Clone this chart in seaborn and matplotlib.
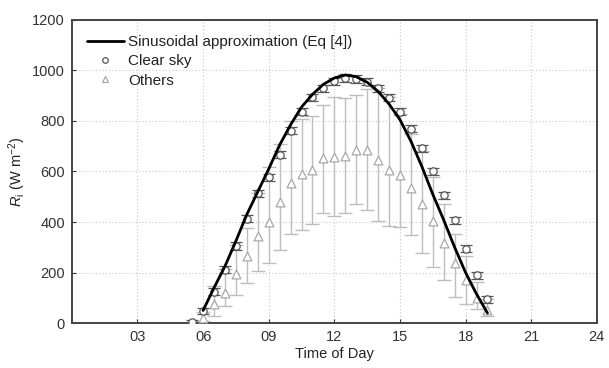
import numpy as np
import pandas as pd
import matplotlib
matplotlib.use("Agg")
import matplotlib.pyplot as plt
from matplotlib.lines import Line2D
import seaborn as sns

# ---- data ----
curve_hours = [6.0, 6.5, 7.0, 7.5, 8.0, 8.5, 9.0, 9.5, 10.0, 10.5, 11.0, 11.5, 12.0, 12.5,
               13.0, 13.5, 14.0, 14.5, 15.0, 15.5, 16.0, 16.5, 17.0, 17.5, 18.0, 18.5, 19.0]
curve_values = [50, 140, 225, 325, 430, 520, 610, 705, 785, 855, 905, 945, 970, 982,
                975, 953, 917, 867, 805, 720, 620, 510, 408, 300, 200, 115, 40]

clear_hours = [5.5, 6.0, 6.5, 7.0, 7.5, 8.0, 8.5, 9.0, 9.5, 10.0, 10.5, 11.0, 11.5, 12.0,
               12.5, 13.0, 13.5, 14.0, 14.5, 15.0, 15.5, 16.0, 16.5, 17.0, 17.5, 18.0, 18.5, 19.0]
clear_mean = [5, 48, 125, 212, 305, 413, 514, 578, 667, 762, 837, 893, 930, 957,
              970, 966, 955, 930, 891, 836, 770, 692, 601, 505, 407, 295, 189, 94]
clear_err = [6, 12, 14, 14, 14, 14, 14, 14, 14, 14, 14, 14, 14, 14,
             14, 14, 14, 14, 14, 14, 14, 14, 14, 14, 14, 14, 14, 14]

others_hours = [6.0, 6.5, 7.0, 7.5, 8.0, 8.5, 9.0, 9.5, 10.0, 10.5, 11.0, 11.5, 12.0, 12.5,
                13.0, 13.5, 14.0, 14.5, 15.0, 15.5, 16.0, 16.5, 17.0, 17.5, 18.0, 18.5, 19.0]
others_mean = [22, 75, 120, 193, 264, 343, 400, 479, 554, 591, 607, 654, 659, 663,
               686, 686, 646, 607, 588, 534, 470, 404, 317, 236, 170, 99, 51]
others_low = [8, 30, 67, 110, 157, 206, 236, 290, 353, 370, 393, 437, 422, 435,
              470, 449, 404, 383, 379, 347, 277, 222, 170, 104, 75, 55, 28]
others_high = [45, 145, 213, 308, 375, 513, 617, 707, 801, 809, 821, 864, 893, 891,
               902, 926, 930, 893, 829, 750, 680, 580, 470, 354, 264, 163, 95]

xticks = [3, 6, 9, 12, 15, 18, 21, 24]
xtick_labels = ["03", "06", "09", "12", "15", "18", "21", "24"]
yticks = [0, 200, 400, 600, 800, 1000, 1200]

# ---- style ----
sns.set_style("ticks")
plt.rcParams["font.family"] = ["Liberation Sans", "DejaVu Sans"]
plt.rcParams["mathtext.fontset"] = "custom"
plt.rcParams["mathtext.rm"] = "Liberation Sans"
plt.rcParams["mathtext.it"] = "Liberation Sans:italic"

fig = plt.figure(figsize=(6.09, 3.68), dpi=100)
ax = fig.add_axes([0.118, 0.122, 0.862, 0.824])

curve_df = pd.DataFrame({"hour": curve_hours, "R": curve_values})
clear_df = pd.DataFrame({"hour": clear_hours, "R": clear_mean, "err": clear_err})
others_df = pd.DataFrame({"hour": others_hours, "R": others_mean,
                          "lo": others_low, "hi": others_high})

others_color = "#a8a8a8"
clear_color = "#555555"

# Others error bars
ax.errorbar(others_df["hour"], others_df["R"],
            yerr=[others_df["R"] - others_df["lo"], others_df["hi"] - others_df["R"]],
            fmt="none", ecolor="#bdbdbd", elinewidth=1.0, capsize=5, capthick=1.0, zorder=2)
sns.scatterplot(data=others_df, x="hour", y="R", marker="^", s=40,
                facecolor="white", edgecolor=others_color, linewidth=0.9, ax=ax, zorder=3)

# Clear sky
ax.errorbar(clear_df["hour"], clear_df["R"], yerr=clear_df["err"],
            fmt="none", ecolor=clear_color, elinewidth=0.9, capsize=4.5, capthick=0.9, zorder=4)
sns.scatterplot(data=clear_df, x="hour", y="R", marker="o", s=28,
                facecolor="white", edgecolor=clear_color, linewidth=0.9, ax=ax, zorder=5)

# Sinusoidal approximation
sns.lineplot(data=curve_df, x="hour", y="R", color="black", linewidth=2.0, ax=ax, zorder=6)

ax.set_xlim(0, 24)
ax.set_ylim(0, 1200)
ax.set_xticks(xticks)
ax.set_xticklabels(xtick_labels)
ax.set_yticks(yticks)
ax.tick_params(direction="in", length=3, labelsize=10.5, colors="#333333", pad=5)
ax.grid(True, linestyle=(0, (1, 2)), color="#c8c8c8", linewidth=0.8)
for s in ax.spines.values():
    s.set_color("#444444")
    s.set_linewidth(1.4)

ax.set_xlabel("Time of Day", fontsize=10.5, color="#222222", labelpad=2)
ax.set_ylabel(r"$R_\mathrm{i}$ (W m$^{-2}$)", fontsize=10.5, color="#222222", labelpad=3)

handles = [
    Line2D([], [], color="black", linewidth=2.0, label="Sinusoidal approximation (Eq [4])"),
    Line2D([], [], linestyle="none", marker="o", markersize=4, markerfacecolor="white",
           markeredgecolor=clear_color, markeredgewidth=0.9, label="Clear sky"),
    Line2D([], [], linestyle="none", marker="^", markersize=4.5, markerfacecolor="white",
           markeredgecolor=others_color, markeredgewidth=0.9, label="Others"),
]
leg = ax.legend(handles=handles, loc="upper left", frameon=False, fontsize=11,
                handlelength=2.4, handletextpad=0.3, labelspacing=0.35,
                borderaxespad=0.5, borderpad=0.5)
for t in leg.get_texts():
    t.set_color("#222222")

fig.savefig("out.png", dpi=100)
